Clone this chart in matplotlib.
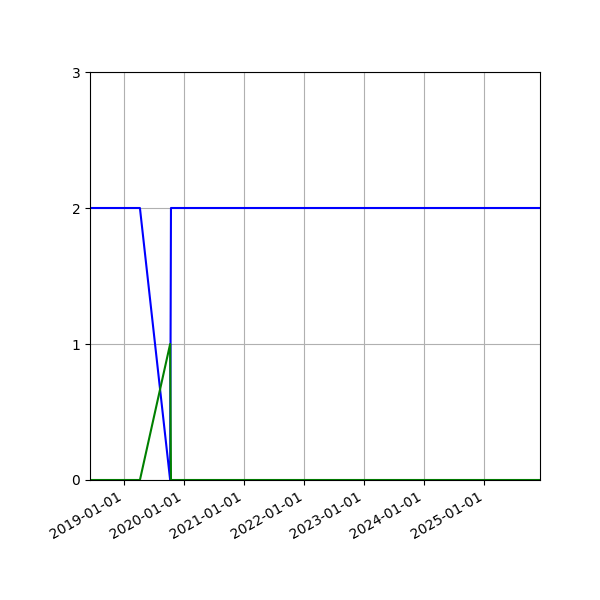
import matplotlib
matplotlib.use("Agg")
import matplotlib.pyplot as plt
import matplotlib.dates as mdates
import pandas as pd

dates = pd.to_datetime(["2018-06-06", "2019-04-06", "2019-10-07", "2019-10-12", "2025-12-06"])
blue_vals = [2, 2, 0, 2, 2]
green_vals = [0, 0, 1, 0, 0]
y_ticks = [0, 1, 2, 3]

fig, ax = plt.subplots(figsize=(6, 6), dpi=100)
ax.plot(dates, blue_vals, color="blue")
ax.plot(dates, green_vals, color="green")
ax.set_xlim(dates[0], dates[-1])
ax.set_ylim(0, 3)
ax.set_yticks(y_ticks)
ax.xaxis.set_major_locator(mdates.YearLocator())
ax.xaxis.set_major_formatter(mdates.DateFormatter("%Y-%m-%d"))
ax.grid(True)
fig.autofmt_xdate()
fig.subplots_adjust(left=0.15, right=0.9, top=0.88, bottom=0.2)
fig.savefig("out.png")
